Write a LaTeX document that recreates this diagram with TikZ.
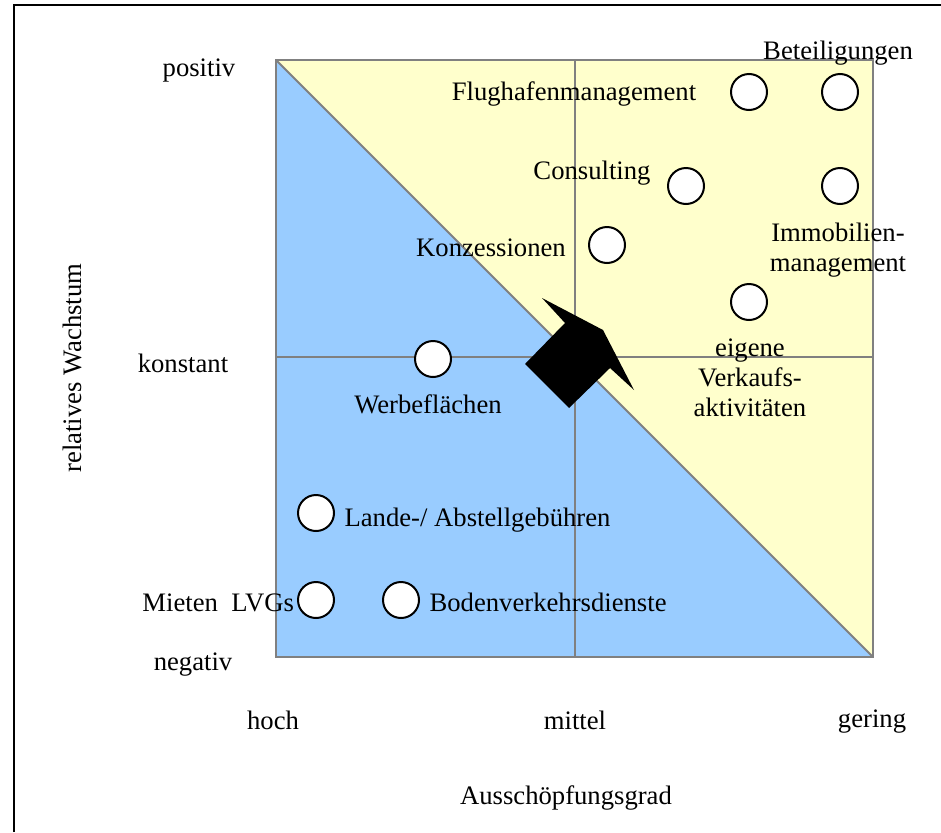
\documentclass[tikz,border=0pt]{standalone}
\usepackage{fontspec}
\setmainfont{Liberation Serif}
\usetikzlibrary{positioning}
\definecolor{lowblue}{HTML}{99CCFF}
\definecolor{highyellow}{HTML}{FFFFCC}
\definecolor{gridgray}{HTML}{808080}

\begin{document}
\begin{tikzpicture}[
    x=0.75pt, y=-0.75pt,
    font=\fontsize{20}{22.3}\selectfont,
    item/.style={circle, draw, line width=1.5pt, fill=white, minimum size=27pt, inner sep=0pt},
    lbl/.style={inner sep=0pt, align=center},
    gridline/.style={draw=gridgray, line width=1.5pt}
]
\useasboundingbox (0,0) rectangle (941,832);

% frame
\coordinate (fa) at (14,832);
\coordinate (fb) at (14,5);
\coordinate (fc) at (941,5);
\draw[line width=1.1pt] (fa) -- (fb) -- (fc);

% portfolio square
\coordinate (nw) at (276,60);
\coordinate (ne) at (873,60);
\coordinate (sw) at (276,657);
\coordinate (se) at (873,657);
\coordinate (mt) at (575,60);
\coordinate (mb) at (575,657);
\coordinate (ml) at (276,357);
\coordinate (mr) at (873,357);
\fill[highyellow] (nw) -- (ne) -- (se) -- cycle;
\fill[lowblue] (nw) -- (sw) -- (se) -- cycle;
\draw[gridline] (mt) -- (mb);
\draw[gridline] (ml) -- (mr);
\draw[gridline] (nw) -- (se);
\draw[gridline, line width=2.2pt] (nw) rectangle (se);

% business fields
\node[item] (flug) at (749,92) {};
\node[item] (bet) at (840,92) {};
\node[item] (cons) at (686,186) {};
\node[item] (immo) at (840,186) {};
\node[item] (konz) at (607,245) {};
\node[item] (verk) at (749,302) {};
\node[item] (werb) at (433,359) {};
\node[item] (lande) at (316,513) {};
\node[item] (lvg) at (316,600) {};
\node[item] (boden) at (401,600) {};

\node[lbl] (tflug) at (574,94) {Flughafenmanagement};
\node[lbl] (tbet) at (838,53) {Beteiligungen};
\node[lbl] (tcons) at (592,173) {Consulting};
\node[lbl] (timmo) at (838,250) {Immobilien-\\management};
\node[lbl] (tkonz) at (491,248) {Konzessionen};
\node[lbl] (tverk) at (750,378) {eigene\\Verkaufs-\\aktivit\"aten};
\node[lbl] (twerb) at (428,404) {Werbefl\"achen};
\node[lbl, right=7pt of lande, yshift=-5pt] (tlande) {Lande-/ Abstellgeb\"uhren};
\node[lbl, left=2pt of lvg, yshift=-2pt] (tlvg) {Mieten~~LVGs};
\node[lbl, right=7pt of boden, yshift=-2pt] (tboden) {Bodenverkehrsdienste};

% strategy arrow
\fill (525,364) -- (565,323) -- (542,298) -- (603,330) -- (634,390)
    -- (610,368) -- (569,408) -- cycle;

% axes
\node[lbl] (pos) at (199,71) {positiv};
\node[lbl] (konst) at (183,363) {konstant};
\node[lbl] (neg) at (193,665) {negativ};
\node[lbl, rotate=90] (yaxis) at (72,368) {relatives Wachstum};
\node[lbl] (hoch) at (273,720) {hoch};
\node[lbl] (mittel) at (575,720) {mittel};
\node[lbl] (gering) at (872,722) {gering};
\node[lbl] (xaxis) at (566,798) {Aussch\"opfungsgrad};
\end{tikzpicture}
\end{document}
